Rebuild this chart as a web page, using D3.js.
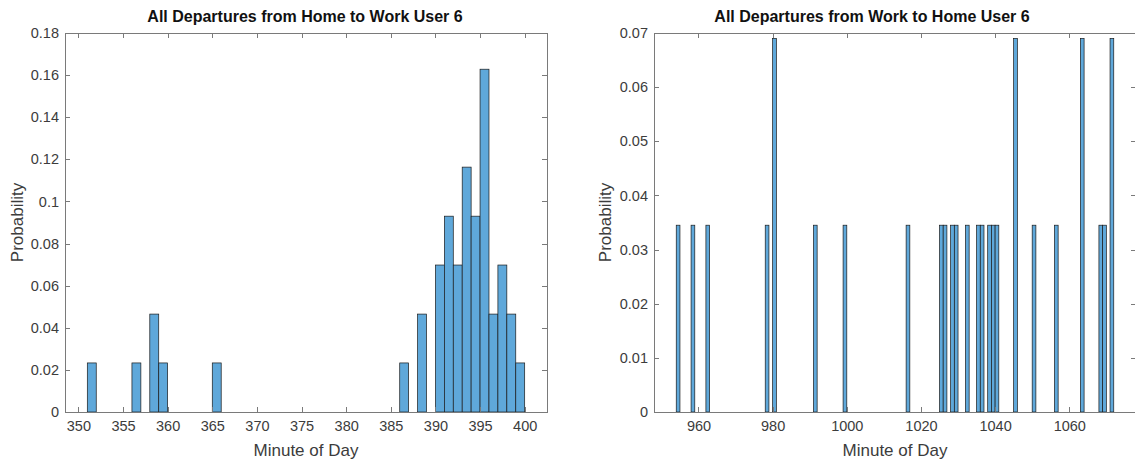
<!DOCTYPE html>
<html>
<head>
<meta charset="UTF-8">
<style>
  body { margin: 0; background: #fff; }
  svg text { font-family: "Liberation Sans", Arial, Helvetica, sans-serif; }
  .axis path, .axis line { fill: none; stroke: #7a7a7a; shape-rendering: crispEdges; }
  .axis text { fill: #3c3c3c; font-size: 14.5px; }
  .title { font-size: 16px; font-weight: bold; fill: #111; }
  .label { font-size: 17px; fill: #3c3c3c; }
  .bar { fill: #5fa8da; stroke: #1a1a1a; stroke-width: 0.7; }
</style>
<script src="https://d3js.org/d3.v7.min.js"></script>
</head>
<body>
<svg width="1135" height="463"></svg>
<script>
// home -> work histogram (bin start minute, probability)
var homeBins = [351, 356, 358, 359, 365, 386, 388, 390, 391, 392, 393, 394, 395, 396, 397, 398, 399];
var homeProb = [0.0233, 0.0233, 0.0465, 0.0233, 0.0233, 0.0233, 0.0465, 0.0698, 0.093, 0.0698,
                0.1163, 0.093, 0.1628, 0.0465, 0.0698, 0.0465, 0.0233];
var homeXTicks = [350, 355, 360, 365, 370, 375, 380, 385, 390, 395, 400];
var homeYTicks = [0, 0.02, 0.04, 0.06, 0.08, 0.1, 0.12, 0.14, 0.16, 0.18];

// work -> home histogram
var workBins = [954, 958, 962, 978, 980, 991, 999, 1016, 1025, 1026, 1028, 1029, 1032,
                1035, 1036, 1038, 1039, 1040, 1045, 1050, 1056, 1063, 1068, 1069, 1071];
var workProb = [0.0345, 0.0345, 0.0345, 0.0345, 0.069, 0.0345, 0.0345, 0.0345, 0.0345, 0.0345,
                0.0345, 0.0345, 0.0345, 0.0345, 0.0345, 0.0345, 0.0345, 0.0345, 0.069, 0.0345,
                0.0345, 0.069, 0.0345, 0.0345, 0.069];
var workXTicks = [960, 980, 1000, 1020, 1040, 1060];
var workYTicks = [0, 0.01, 0.02, 0.03, 0.04, 0.05, 0.06, 0.07];

var svg = d3.select('svg');

function panel(cfg) {
  var x = d3.scaleLinear().domain(cfg.xDomain).range([cfg.left, cfg.right]);
  var y = d3.scaleLinear().domain(cfg.yDomain).range([cfg.bottom, cfg.top]);
  var g = svg.append('g');
  var bars = cfg.bins.map(function(b, i) { return { start: b, p: cfg.probs[i] }; });

  g.selectAll('.bar').data(bars).enter().append('rect')
    .attr('class', 'bar')
    .attr('x', function(d) { return x(d.start); })
    .attr('width', function(d) { return x(d.start + 1) - x(d.start); })
    .attr('y', function(d) { return y(d.p); })
    .attr('height', function(d) { return y(0) - y(d.p); });

  g.append('g').attr('class', 'axis')
    .attr('transform', 'translate(0,' + cfg.bottom + ')')
    .call(d3.axisBottom(x).tickValues(cfg.xTicks).tickFormat(d3.format('d'))
      .tickSizeInner(-5).tickSizeOuter(0).tickPadding(9));
  g.append('g').attr('class', 'axis')
    .attr('transform', 'translate(0,' + cfg.top + ')')
    .call(d3.axisTop(x).tickValues(cfg.xTicks).tickSizeInner(-5).tickSizeOuter(0).tickFormat(''));
  g.append('g').attr('class', 'axis')
    .attr('transform', 'translate(' + cfg.left + ',0)')
    .call(d3.axisLeft(y).tickValues(cfg.yTicks).tickFormat(d3.format('~g'))
      .tickSizeInner(-5).tickSizeOuter(0).tickPadding(6));
  g.append('g').attr('class', 'axis')
    .attr('transform', 'translate(' + cfg.right + ',0)')
    .call(d3.axisRight(y).tickValues(cfg.yTicks).tickSizeInner(-5).tickSizeOuter(0).tickFormat(''));

  g.append('text').attr('class', 'title')
    .attr('x', cfg.titleX).attr('y', 22)
    .attr('text-anchor', 'middle')
    .text(cfg.title);
  g.append('text').attr('class', 'label')
    .attr('x', (cfg.left + cfg.right) / 2).attr('y', 456)
    .attr('text-anchor', 'middle')
    .text('Minute of Day');
  g.append('text').attr('class', 'label')
    .attr('transform', 'translate(' + cfg.yLabelX + ',' + (cfg.top + cfg.bottom) / 2 + ') rotate(-90)')
    .attr('text-anchor', 'middle')
    .text('Probability');
}

panel({
  bins: homeBins, probs: homeProb, xTicks: homeXTicks, yTicks: homeYTicks,
  xDomain: [348.5, 402.5], yDomain: [0, 0.18],
  left: 65, right: 547, top: 33, bottom: 412,
  title: 'All Departures from Home to Work User 6', titleX: 305, yLabelX: 23
});

panel({
  bins: workBins, probs: workProb, xTicks: workXTicks, yTicks: workYTicks,
  xDomain: [948, 1078], yDomain: [0, 0.07],
  left: 654, right: 1136, top: 33, bottom: 412,
  title: 'All Departures from Work to Home User 6', titleX: 872, yLabelX: 611
});
</script>
</body>
</html>
